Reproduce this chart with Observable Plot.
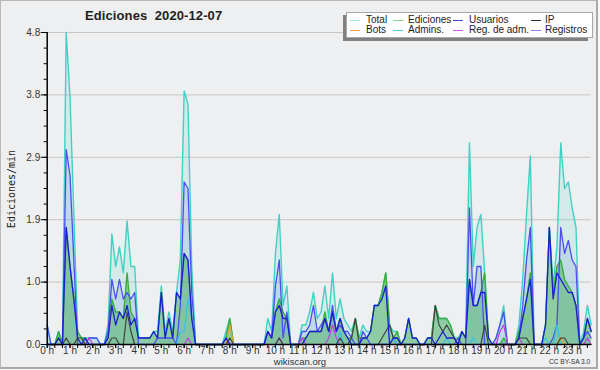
<!DOCTYPE html>
<html><head><meta charset="utf-8">
<script src="https://cdn.jsdelivr.net/npm/d3@7"></script>
<script src="https://cdn.jsdelivr.net/npm/@observablehq/plot@0.6"></script>
<style>
html,body{margin:0;padding:0;background:#fafafa;}
#wrap{position:relative;width:600px;height:370px;overflow:hidden;font-family:"Liberation Sans",Arial,sans-serif;color:#222;}
#bg{position:absolute;left:0;top:0;width:598px;height:369px;box-sizing:border-box;background:#eeeff0;border-left:1px solid #b8b8b8;border-top:1px solid #b8b8b8;border-right:2px solid #a9a9a9;border-bottom:2px solid #a9a9a9;}
#chart{position:absolute;left:0;top:0;}
.t{position:absolute;white-space:nowrap;}
#title{left:85px;top:8px;font-size:13px;font-weight:bold;letter-spacing:0.1px;}
#ylab{left:11px;top:189px;font-family:"DejaVu Sans Mono",monospace;font-size:10px;transform:translate(-50%,-50%) rotate(-90deg);}
#site{left:300px;top:357px;font-size:9.5px;line-height:10px;transform:translateX(-50%);color:#333;}
#cc{left:549px;top:358px;font-size:6.6px;line-height:8px;color:#333;}
#legshadow{position:absolute;left:343px;top:15px;width:245px;height:26px;background:#808080;}
#legend{position:absolute;left:346px;top:12px;width:247px;height:26px;box-sizing:border-box;background:#fff;border:1px solid #a8a8a8;}
.li{position:absolute;height:0;border-top:1.5px solid;width:10px;}
.lt{position:absolute;font-size:10px;line-height:10px;color:#222;}
</style></head>
<body>
<div id="wrap">
<div id="bg"></div>
<div id="chart"></div>
<div class="t" id="title">Ediciones&nbsp; 2020-12-07</div>
<div class="t" id="ylab">Ediciones/min</div>
<div class="t" id="site">wikiscan.org</div>
<div class="t" id="cc">CC BY-SA 3.0</div>
<div id="legshadow"></div>
<div id="legend"></div>
</div>
<script>
// 10-minute bins, 0:00 .. 23:50 (edits per minute)
const total = [
0.3,0,0,0.2,0,4.8,3.8,2.0,0.2,0.1,0.1,0.1,
0.1,0.1,0,0,0.3,1.7,1.2,1.5,1.1,1.9,1.2,1.2,
0.1,0.1,0.1,0.1,0.2,0.2,0.9,0.2,0.5,0.2,0.8,1.3,
3.9,3.7,1.2,0,0,0,0,0,0,0,0,0.2,
0.4,0,0,0,0,0,0,0,0,0,0.4,0.2,
1.4,2.0,0.6,0.9,0,0,0,0.3,0.3,0.5,0.8,0.4,
0.5,0.9,0.4,1.1,0.4,0.7,0.4,0.3,0.2,0.4,0.1,0.3,
0.2,0.2,0.6,0.6,0.8,1.1,0.3,0.2,0.2,0,0.1,0.4,
0.1,0.1,0,0,0.1,0.1,0.6,0.4,0.4,0.4,0.3,0.1,
0.1,0.2,0.1,3.1,1.2,1.8,2.0,1.1,0.1,0,0.1,0.3,
0.6,0,0,0,0.3,1.0,2.0,2.9,0,0,0,0.3,
1.8,0.9,1.5,3.1,2.4,2.5,2.1,1.8,0,0.2,0.6,0.3];
const ediciones = [
0,0,0,0.2,0,1.8,1.2,0.7,0.2,0.1,0.1,0,
0,0,0,0,0.1,0.7,0.5,0.5,0.4,1.1,0.5,0.4,
0.1,0.1,0.1,0.1,0.2,0.1,0.8,0.1,0.4,0.1,0.8,0.7,
1.4,1.3,0.4,0,0,0,0,0,0,0,0,0.1,
0.4,0,0,0,0,0,0,0,0,0,0.2,0.1,
0.5,0.7,0.5,0.4,0,0,0,0.1,0.1,0.2,0.2,0.2,
0.2,0.5,0.2,0.5,0.2,0.4,0.2,0.1,0.1,0.4,0.1,0.1,
0.1,0.2,0.6,0.6,0.8,1.1,0.3,0.1,0.2,0,0.1,0.4,
0.1,0.1,0,0,0.1,0.1,0.6,0.4,0.4,0.4,0.3,0.1,
0,0.2,0.1,1.0,0.6,0.6,0.8,1.1,0.1,0,0,0,
0.1,0,0,0,0.2,0.4,0.7,1.1,0,0,0,0.3,
1.8,0.8,1.2,1.3,1.0,0.9,0.8,0.6,0,0.1,0.4,0.2];
const registros = [
0.3,0,0,0,0,3.0,2.6,1.3,0,0,0,0.1,
0.1,0.1,0,0,0.2,1.0,0.7,1.0,0.7,0.8,0.7,0.8,
0,0,0,0,0,0.1,0.1,0.1,0.1,0.1,0,0.6,
2.5,2.4,0.8,0,0,0,0,0,0,0,0,0.1,
0,0,0,0,0,0,0,0,0,0,0.2,0.1,
0.9,1.3,0.1,0.5,0,0,0,0.2,0.2,0.3,0.6,0.2,
0.3,0.4,0.2,0.6,0.2,0.3,0.2,0.2,0.1,0,0,0.2,
0.1,0,0,0,0,0,0,0.1,0,0,0,0,
0,0,0,0,0,0,0,0,0,0,0,0,
0.1,0,0,2.1,0.6,1.2,1.2,0,0,0,0.1,0.3,
0.5,0,0,0,0.1,0.6,1.3,1.8,0,0,0,0,
0,0.1,0.3,1.8,1.4,1.6,1.3,1.2,0,0.1,0.2,0.1];
const usuarios = [
0,0,0,0.1,0,1.8,1.2,0.7,0.1,0,0.1,0,
0,0,0,0,0.1,0.6,0.3,0.5,0.4,0.6,0.3,0.4,
0.1,0.1,0.1,0.1,0.2,0.1,0.8,0.1,0.4,0.1,0.8,0.7,
1.4,1.3,0.4,0,0,0,0,0,0,0,0,0.1,
0,0,0,0,0,0,0,0,0,0,0.2,0.1,
0.5,0.6,0.4,0.4,0,0,0,0,0.1,0.2,0.2,0.2,
0.2,0.4,0.2,0.5,0.2,0.4,0.2,0.1,0,0,0,0.1,
0.1,0.2,0.6,0.6,0.7,0.9,0,0.1,0.1,0,0.1,0.4,
0.1,0.1,0,0,0.1,0.1,0,0.1,0.2,0.1,0.1,0.1,
0,0.2,0.1,1.0,0.6,0.6,0.8,0.8,0.1,0,0,0,
0,0,0,0,0.1,0.4,0.7,1.0,0,0,0,0.3,
1.8,0.7,1.1,1.0,0.9,0.8,0.8,0.6,0,0.1,0.4,0.2];
const ip = [
0,0,0,0.1,0,0.1,0,0,0.1,0.1,0,0,
0,0,0,0,0,0.1,0.1,0,0,0.5,0.2,0,
0,0,0,0,0,0,0,0,0,0,0,0,
0,0,0,0,0,0,0,0,0,0,0,0,
0.1,0,0,0,0,0,0,0,0,0,0,0,
0,0.1,0,0,0,0,0,0,0,0,0,0,
0,0,0,0,0,0.1,0,0,0.1,0.4,0,0,
0,0,0,0,0.1,0.2,0.3,0.1,0.1,0,0,0,
0,0,0,0,0,0,0.6,0.3,0.2,0.3,0.2,0.1,
0,0,0,0,0,0,0,0.3,0,0,0,0,
0,0,0,0,0.1,0.1,0.1,0,0,0,0,0,
0,0,0,0.1,0.1,0,0,0,0,0,0,0];
const bots = [
0,0,0,0,0,0,0,0,0,0,0,0,
0,0,0,0,0,0,0,0,0,0,0,0,
0,0,0,0,0,0,0,0,0,0,0,0,
0,0,0,0,0,0,0,0,0,0,0,0,
0.3,0,0,0,0,0,0,0,0,0,0,0,
0,0,0,0,0,0,0,0,0,0,0,0,
0,0,0,0,0,0,0,0,0,0,0,0,
0,0,0,0,0,0,0,0,0,0,0,0,
0,0,0,0,0,0,0,0,0,0,0,0,
0,0,0,0,0,0,0,0,0,0,0,0,
0,0,0,0,0,0,0,0,0,0,0,0,
0,0,0,0.1,0,0,0,0,0,0,0,0];
const admins = [
0,0,0,0,0,0,0,0,0,0,0,0,
0,0,0,0,0,0,0,0,0,0,0,0,
0,0,0,0,0,0,0,0,0,0,0,0.2,
0.2,0.7,0.4,0,0,0,0,0,0,0,0,0,
0,0,0,0,0,0,0,0,0,0,0,0,
0,0,0,0,0,0,0,0,0,0,0,0,
0,0,0,0,0,0.2,0,0,0,0,0,0,
0,0,0,0,0,0,0,0.1,0,0,0,0,
0,0,0,0,0,0,0,0,0,0.1,0,0,
0,0,0,0,0.1,0,0,0,0,0,0,0,
0,0,0,0,0,0,0,0,0,0,0,0.1,
0,0,0.3,0,0,0,0,0,0,0,0,0];
const regAdm = [
0,0,0,0,0,0,0,0,0,0,0,0.1,
0,0,0,0,0,0,0,0,0,0,0,0,
0,0,0,0,0,0,0,0,0,0,0,0,
0,0.1,0,0,0,0,0,0,0,0,0,0,
0,0,0,0,0,0,0,0,0,0,0,0,
0,0.1,0,0,0,0,0,0.1,0,0,0,0,
0,0,0.1,0.3,0.1,0,0,0,0,0,0,0,
0,0,0,0,0,0,0,0,0,0,0,0,
0,0,0,0,0,0,0,0,0,0,0,0,
0,0,0,0,0,0,0,0,0,0,0,0.2,
0.3,0,0,0,0.1,0,0,0,0,0,0,0,
0,0,0,0,0,0,0,0,0,0,0.1,0];

const yTicks = [0, 0.96, 1.92, 2.88, 3.84, 4.8];
const yTickLabels = ["0.0", "1.0", "1.9", "2.9", "3.8", "4.8"];
const hourLabels = ["0 h","1 h","2 h","3 h","4 h","5 h","6 h","7 h","8 h","9 h","10 h","11 h",
  "12 h","13 h","14 h","15 h","16 h","17 h","18 h","19 h","20 h","21 h","22 h","23 h"];
const legendNames = ["Total","Ediciones","Usuarios","IP","Bots","Admins.","Reg. de adm.","Registros"];

const rows = total.map((t, i) => ({i, total: t, ediciones: ediciones[i], registros: registros[i],
  usuarios: usuarios[i], ip: ip[i], bots: bots[i], admins: admins[i], regAdm: regAdm[i]}));

const hourTicks = hourLabels.map((_, h) => h * 6);
const xMinor = d3.range(0, 144, 2);
const yMinor = d3.range(0, 21).map(k => k * 0.24);

const col = {
  total: "#3fd2c4", ediciones: "#3aae3c", usuarios: "#1c1cd2", ip: "#404040",
  bots: "#f0a020", admins: "#36c4e6", regAdm: "#c040e0", registros: "#4c4cf2"
};

const chart = Plot.plot({
  width: 600, height: 370,
  marginLeft: 46.7, marginRight: 9.3, marginTop: 32, marginBottom: 26,
  x: {domain: [0, 143], axis: null},
  y: {domain: [0, 4.8], axis: null},
  style: {background: "transparent", fontFamily: "'Liberation Sans Narrow','Liberation Sans',Arial,sans-serif", fontSize: "10px", color: "#333"},
  marks: [
    Plot.gridY(yTicks, {stroke: "#c6c6c6", strokeOpacity: 1, strokeWidth: 1}),
    Plot.areaY(rows, {x: "i", y: "total", fill: "#3ccfc0", fillOpacity: 0.15}),
    Plot.areaY(rows, {x: "i", y: "registros", fill: "#4a78d0", fillOpacity: 0.14}),
    Plot.areaY(rows, {x: "i", y: "ediciones", fill: "#28a03c", fillOpacity: 0.4}),
    Plot.lineY(rows, {x: "i", y: "total", stroke: col.total, strokeWidth: 1.4}),
    Plot.lineY(rows, {x: "i", y: "ediciones", stroke: col.ediciones, strokeWidth: 1.4}),
    Plot.lineY(rows, {x: "i", y: "registros", stroke: col.registros, strokeWidth: 1.3}),
    Plot.lineY(rows, {x: "i", y: "admins", stroke: col.admins, strokeWidth: 1.2}),
    Plot.lineY(rows, {x: "i", y: "bots", stroke: col.bots, strokeWidth: 1.2}),
    Plot.lineY(rows, {x: "i", y: "regAdm", stroke: col.regAdm, strokeWidth: 1.2}),
    Plot.lineY(rows, {x: "i", y: "ip", stroke: col.ip, strokeWidth: 1.2}),
    Plot.lineY(rows, {x: "i", y: "usuarios", stroke: col.usuarios, strokeWidth: 1.3}),
    Plot.ruleX([0], {y1: 0, y2: 4.8, stroke: "#000", strokeWidth: 1.5}),
    Plot.ruleY([0], {x1: 0, x2: 143, stroke: "#000", strokeWidth: 1.5}),
    Plot.axisY({ticks: yMinor, tickSize: 3, tickFormat: () => "", label: null, stroke: "#000"}),
    Plot.axisY({ticks: yTicks, tickSize: 6, tickPadding: 1, label: null, stroke: "#000",
      tickFormat: (d) => yTickLabels[yTicks.indexOf(d)]}),
    Plot.axisX({ticks: xMinor, tickSize: 4, tickFormat: () => "", label: null, stroke: "#000"}),
    Plot.axisX({ticks: hourTicks, tickSize: 4, tickPadding: -2, label: null, stroke: "#000",
      tickFormat: (d) => hourLabels[d / 6]})
  ]
});
document.getElementById("chart").appendChild(chart);

// legend
const legend = document.getElementById("legend");
const legColors = {total: "#a6e6de", ediciones: "#88d488", usuarios: "#4444dc", ip: "#303030",
  bots: "#f0a040", admins: "#4cc8e2", regAdm: "#d058e6", registros: "#8282f0"};
const lineX = [3, 46, 106, 184];
const textX = [19, 61, 122, 198];
const rowY = [7, 17];
const keyOrder = ["total","ediciones","usuarios","ip","bots","admins","regAdm","registros"];
keyOrder.forEach((k, n) => {
  const c = n % 4, r = Math.floor(n / 4);
  const ln = document.createElement("div");
  ln.className = "li";
  ln.style.left = lineX[c] + "px";
  ln.style.top = rowY[r] + "px";
  ln.style.borderTopColor = legColors[k];
  legend.appendChild(ln);
  const tx = document.createElement("div");
  tx.className = "lt";
  tx.style.left = textX[c] + "px";
  tx.style.top = (rowY[r] - 5) + "px";
  tx.textContent = legendNames[n];
  legend.appendChild(tx);
});
</script>
</body></html>
